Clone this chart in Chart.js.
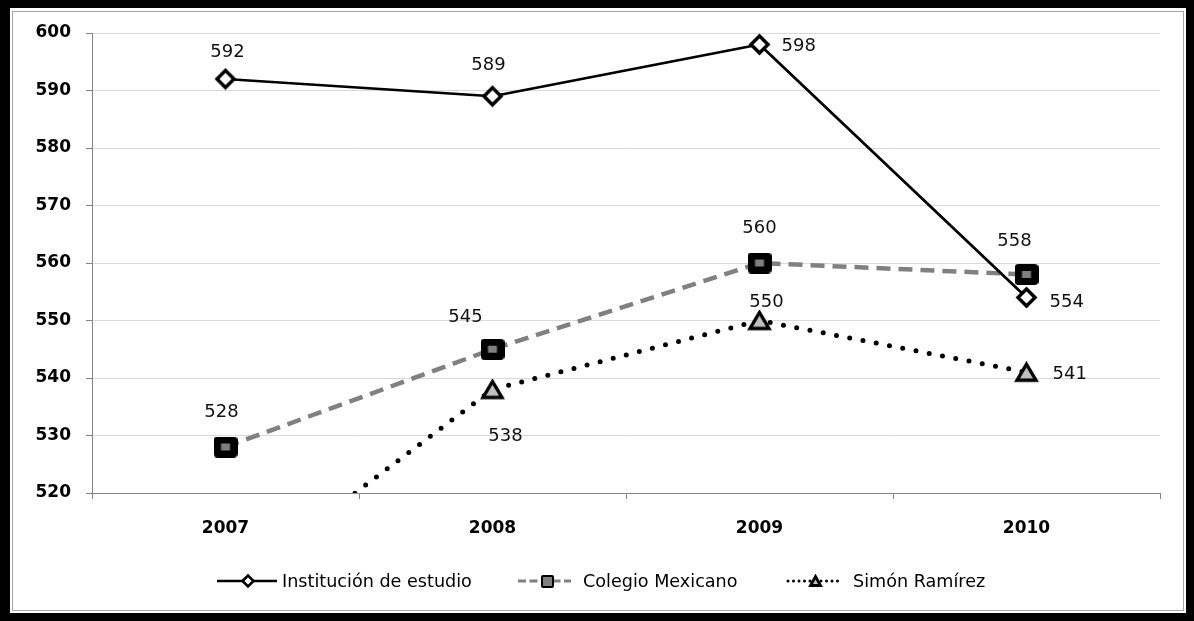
<!DOCTYPE html>
<html>
<head>
<meta charset="utf-8">
<script src="https://cdn.jsdelivr.net/npm/chart.js@4.4.0/dist/chart.umd.min.js"></script>
<style>
  html, body { margin: 0; padding: 0; background: #000; }
  canvas { display: block; }
</style>
</head>
<body>
<canvas id="c" width="1194" height="621"></canvas>
<script>
// ---- data ----
const years = ['2007', '2008', '2009', '2010'];
const institucion = [592, 589, 598, 554];
const colegio = [528, 545, 560, 558];
const simon = [503, 538, 550, 541];
const seriesNames = ['Institución de estudio', 'Colegio Mexicano', 'Simón Ramírez'];
const yMin = 520, yMax = 600, yStep = 10;

// ---- marker images ----
function makeCanvas(w, h, draw) {
  const c = document.createElement('canvas');
  c.width = w; c.height = h;
  const g = c.getContext('2d');
  draw(g, w, h);
  return c;
}
function diamond(r, bw) {
  const s = Math.ceil(2 * r + bw + 2);
  return makeCanvas(s, s, (g, w, h) => {
    const cx = w / 2, cy = h / 2;
    g.beginPath();
    g.moveTo(cx - r, cy); g.lineTo(cx, cy - r); g.lineTo(cx + r, cy); g.lineTo(cx, cy + r);
    g.closePath();
    g.fillStyle = '#fff'; g.fill();
    g.lineWidth = bw; g.strokeStyle = '#000'; g.lineJoin = 'miter'; g.stroke();
  });
}
function square(ow, oh, rad, iw, ih) {
  return makeCanvas(ow, oh, (g, w, h) => {
    g.fillStyle = '#000';
    g.beginPath();
    g.roundRect(0, 0, w, h, rad);
    g.fill();
    g.fillStyle = '#808080';
    g.fillRect((w - iw) / 2, (h - ih) / 2, iw, ih);
  });
}
function triangle(tw, th, bw) {
  const W = Math.ceil(tw + bw + 2), H = Math.ceil(th + bw + 2);
  return makeCanvas(W, H, (g, w, h) => {
    const cx = w / 2, top = (h - th) / 2;
    g.beginPath();
    g.moveTo(cx, top); g.lineTo(cx + tw / 2, top + th); g.lineTo(cx - tw / 2, top + th);
    g.closePath();
    g.fillStyle = '#c0c0c0'; g.fill();
    g.lineWidth = bw; g.strokeStyle = '#000'; g.lineJoin = 'miter'; g.stroke();
  });
}

const markers = [diamond(8.5, 3.5), square(24, 21, 4, 9, 7), triangle(19, 16, 3.4)];
const legendMarkers = [diamond(5.5, 2.6), square(13, 13, 2, 9, 9), triangle(10, 9, 2.8)];

const lineStyles = [
  { color: '#000', width: 2.75, dash: [], cap: 'butt' },
  { color: '#808080', width: 4.5, dash: [14, 8], cap: 'butt' },
  { color: '#000', width: 5, dash: [0, 13.5], cap: 'round' }
];
const legendLineStyles = [
  { color: '#000', width: 2.5, dash: [], cap: 'butt' },
  { color: '#808080', width: 3, dash: [8, 3.5], cap: 'butt' },
  { color: '#000', width: 3, dash: [0, 5.5], cap: 'round' }
];

// value label placement per point: [dx, dy, align]
const labelPlacement = [
  [[2, -27, 'center'], [-4, -31, 'center'], [22, 2, 'left'], [23, 5, 'left']],
  [[-4, -35, 'center'], [-27, -32, 'center'], [0, -35, 'center'], [-12, -33, 'center']],
  [null, [13, 47, 'center'], [7, -18, 'center'], [26, 2, 'left']]
];

// legend layout: line start/end, marker centre, text start
const legendItems = [
  { x0: 217, x1: 277, mx: 248, tx: 282 },
  { x0: 518, x1: 571, mx: 547, tx: 583 },
  { x0: 788, x1: 840, mx: 815, tx: 853 }
];
const legendY = 581;

// ---- plugins ----
const framePlugin = {
  id: 'frame',
  beforeDraw(chart) {
    const ctx = chart.ctx;
    ctx.save();
    ctx.fillStyle = '#000';
    ctx.fillRect(0, 0, chart.width, chart.height);
    ctx.fillStyle = '#fff';
    ctx.fillRect(10, 8, 1176, 605);
    ctx.strokeStyle = '#a6a6a6';
    ctx.lineWidth = 1;
    ctx.strokeRect(12.5, 11.5, 1171, 599);
    ctx.restore();
  }
};

const valueLabels = {
  id: 'valueLabels',
  afterDatasetsDraw(chart) {
    const ctx = chart.ctx;
    ctx.save();
    ctx.font = '18px "DejaVu Sans"';
    ctx.fillStyle = '#111';
    ctx.textBaseline = 'middle';
    chart.data.datasets.forEach((ds, i) => {
      const meta = chart.getDatasetMeta(i);
      meta.data.forEach((pt, j) => {
        const v = ds.data[j];
        const p = labelPlacement[i][j];
        if (!p || v < yMin || v > yMax) return;
        ctx.textAlign = p[2];
        ctx.fillText(String(v), pt.x + p[0], pt.y + p[1]);
      });
    });
    ctx.restore();
  }
};

const customLegend = {
  id: 'customLegend',
  afterDraw(chart) {
    const ctx = chart.ctx;
    ctx.save();
    legendItems.forEach((it, i) => {
      const st = legendLineStyles[i];
      ctx.beginPath();
      ctx.strokeStyle = st.color;
      ctx.lineWidth = st.width;
      ctx.lineCap = st.cap;
      ctx.setLineDash(st.dash);
      ctx.moveTo(it.x0, legendY);
      ctx.lineTo(it.x1, legendY);
      ctx.stroke();
      ctx.setLineDash([]);
      const m = legendMarkers[i];
      ctx.drawImage(m, Math.round(it.mx - m.width / 2), Math.round(legendY - m.height / 2));
      ctx.fillStyle = '#000';
      ctx.font = '17.6px "DejaVu Sans"';
      ctx.textAlign = 'left';
      ctx.textBaseline = 'middle';
      ctx.fillText(seriesNames[i], it.tx, legendY + 1);
    });
    ctx.restore();
  }
};

// ---- chart ----
const seriesValues = [institucion, colegio, simon];
const datasets = seriesValues.map((vals, i) => ({
  label: seriesNames[i],
  data: vals,
  borderColor: lineStyles[i].color,
  borderWidth: lineStyles[i].width,
  borderDash: lineStyles[i].dash,
  borderCapStyle: lineStyles[i].cap,
  borderJoinStyle: 'round',
  tension: 0,
  fill: false,
  pointStyle: markers[i],
  pointRadius: 10,
  pointHoverRadius: 10
}));

new Chart(document.getElementById('c'), {
  type: 'line',
  data: { labels: years, datasets },
  options: {
    responsive: false,
    animation: false,
    events: [],
    layout: { padding: { left: 10, right: 34, top: 33, bottom: 0 } },
    plugins: { legend: { display: false }, tooltip: { enabled: false } },
    scales: {
      x: {
        offset: true,
        afterFit(scale) { scale.height = 128; },
        grid: {
          offset: true,
          drawOnChartArea: false,
          drawTicks: true,
          tickLength: 6,
          tickColor: '#868686'
        },
        border: { color: '#868686', width: 1 },
        ticks: {
          font: { family: 'DejaVu Sans', size: 17, weight: 'bold' },
          color: '#000',
          padding: 19
        }
      },
      y: {
        min: yMin,
        max: yMax,
        afterFit(scale) { scale.width = 82; },
        grid: {
          color: '#d9d9d9',
          tickColor: '#868686',
          tickLength: 6
        },
        border: { color: '#868686', width: 1 },
        ticks: {
          stepSize: yStep,
          font: { family: 'DejaVu Sans', size: 17, weight: 'bold' },
          color: '#000',
          padding: 15
        }
      }
    }
  },
  plugins: [framePlugin, valueLabels, customLegend]
});
</script>
</body>
</html>
